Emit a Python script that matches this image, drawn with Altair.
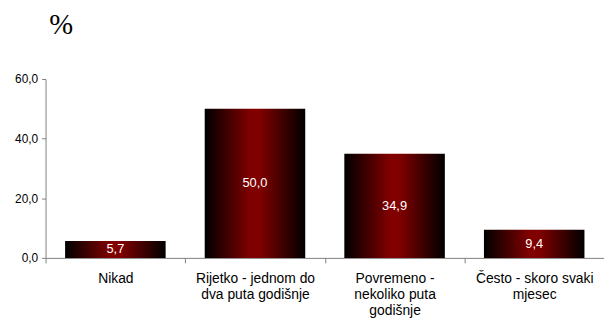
import altair as alt
import pandas as pd

categories = ["Nikad", "Rijetko - jednom do\ndva puta godišnje",
              "Povremeno -\nnekoliko puta\ngodišnje", "Često - skoro svaki\nmjesec"]
values = [5.7, 50.0, 34.9, 9.4]
value_labels = ["5,7", "50,0", "34,9", "9,4"]
y_ticks = [0, 20, 40, 60]

df = pd.DataFrame({"cat": categories, "val": values, "lab": value_labels})
df["mid"] = df["val"] / 2

grad = alt.Gradient(
    gradient="linear",
    stops=[
        alt.GradientStop(color="#000000", offset=0),
        alt.GradientStop(color="#800000", offset=0.45),
        alt.GradientStop(color="#800000", offset=0.55),
        alt.GradientStop(color="#000000", offset=1),
    ],
    x1=0, x2=1, y1=0, y2=0,
)

xenc = alt.X(
    "cat:N", sort=categories, title=None,
    scale=alt.Scale(paddingInner=0, paddingOuter=0),
    axis=alt.Axis(
        labelAngle=0, tickBand="extent", labelExpr="split(datum.label, '\\n')",
        labelFont="Liberation Sans", labelFontSize=14, labelColor="#000000",
        labelLineHeight=16, labelPadding=9, tickSize=5,
        domainColor="#808080", tickColor="#808080", labelBaseline="top",
    ),
)

bars = alt.Chart(df).mark_bar(color=grad, width={"band": 0.72}).encode(
    x=xenc,
    y=alt.Y(
        "val:Q", title=None,
        scale=alt.Scale(domain=[0, 60], nice=False),
        axis=alt.Axis(
            values=y_ticks, grid=False, tickSize=4,
            labelExpr="replace(format(datum.value, '.1f'), '.', ',')",
            labelFont="Liberation Sans", labelFontSize=12, labelColor="#000000",
            domainColor="#808080", tickColor="#808080", labelPadding=4,
        ),
    ),
)

texts = alt.Chart(df).mark_text(
    color="#ffffff", font="Liberation Sans", fontSize=13, baseline="middle"
).encode(
    x=alt.X("cat:N", sort=categories),
    y=alt.Y("mid:Q"),
    text="lab:N",
)

chart = alt.layer(bars, texts).properties(
    width=565, height=181,
    title=alt.TitleParams(
        "%", anchor="start", font="Liberation Serif", fontSize=29,
        fontWeight="normal", color="#000000", dx=35, offset=34,
    ),
    padding={"left": 38, "top": 70, "right": 0, "bottom": 60},
    autosize=alt.AutoSizeParams(type="none"),
).configure_view(stroke=None)

chart.save("out.html", embed_options={"renderer": "svg", "actions": False})
